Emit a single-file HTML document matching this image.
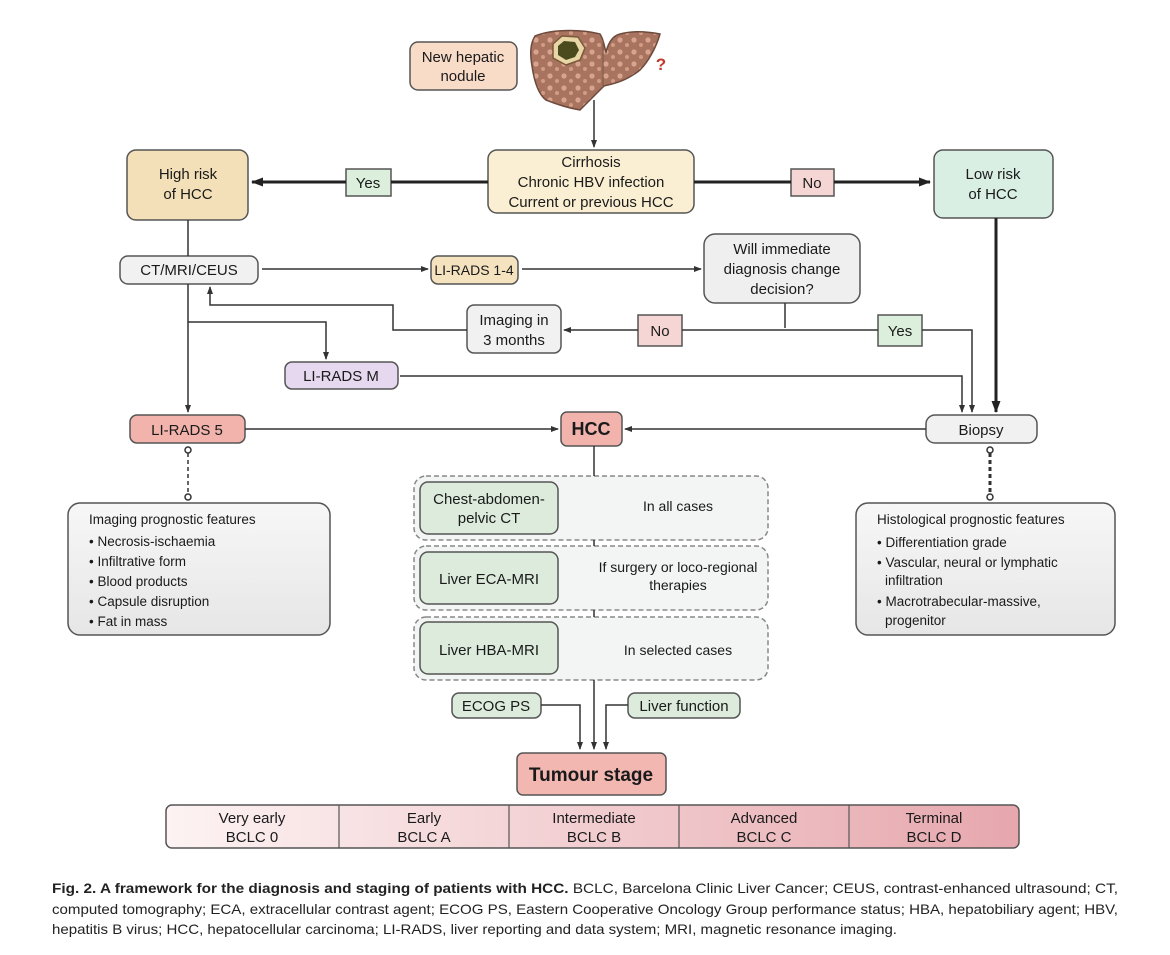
<!DOCTYPE html>
<html><head><meta charset="utf-8">
<style>
html,body{margin:0;padding:0;background:#fff;}
svg{display:block;font-family:"Liberation Sans",Arial,sans-serif;}
</style></head>
<body>
<div style="position:relative;width:1170px;height:955px;overflow:hidden;">
<svg width="1170" height="955" viewBox="0 0 1170 955">
<defs>
<marker id="a" markerWidth="8" markerHeight="8" refX="7" refY="4" orient="auto" markerUnits="userSpaceOnUse"><path d="M0,1 L8,4 L0,7z" fill="#333"/></marker>
<marker id="b" markerWidth="12" markerHeight="10" refX="11" refY="5" orient="auto" markerUnits="userSpaceOnUse"><path d="M0,0.5 L12,5 L0,9.5z" fill="#222"/></marker>
<linearGradient id="g" x1="0" y1="0" x2="0" y2="1"><stop offset="0" stop-color="#f7f7f7"/><stop offset="1" stop-color="#e6e6e6"/></linearGradient>
<linearGradient id="st" x1="0" y1="0" x2="1" y2="0"><stop offset="0" stop-color="#fdf3f3"/><stop offset="1" stop-color="#e6a7ad"/></linearGradient>
<pattern id="sp" width="14" height="12" patternUnits="userSpaceOnUse"><rect width="14" height="12" fill="#a8735f"/><circle cx="4" cy="4" r="2.6" fill="#d9a48f"/><circle cx="11" cy="9" r="2" fill="#d29b86"/></pattern>
</defs>
<g stroke="#555" stroke-width="1.5">
<!-- liver -->
<path d="M535,36 C555,28 585,30 600,34 C604,40 604,46 606,52 C608,44 612,36 620,34 C635,30 650,32 660,34 C656,48 648,62 640,70 C625,82 612,84 604,86 C598,92 590,100 580,110 C568,108 556,104 546,100 C538,94 534,80 532,66 C530,54 530,44 535,36z" fill="url(#sp)" stroke="#6e4a3d"/>
<path d="M603,40 L603,88" stroke="#7a5a4a" stroke-width="1"/>
<path d="M553,44 L562,36 L578,37 L585,48 L580,60 L566,65 L553,58z" fill="#e9d6a6" stroke="#7a5a3a"/>
<path d="M558,46 L564,41 L575,42 L579,50 L575,57 L566,60 L558,55z" fill="#4a4a1e" stroke="none"/>
<!-- boxes -->
<rect x="410" y="42" width="107" height="48" rx="8" fill="#f9dcc8"/>
<rect x="488" y="150" width="206" height="63" rx="9" fill="#fbefd3"/>
<rect x="127" y="150" width="121" height="70" rx="9" fill="#f3e0b8"/>
<rect x="934" y="150" width="119" height="68" rx="9" fill="#d9efe4"/>
<rect x="346" y="169" width="45" height="27" fill="#dcefdc"/>
<rect x="791" y="169" width="43" height="27" fill="#f6d6d4"/>
<rect x="120" y="256" width="138" height="28" rx="8" fill="#f1f1f1"/>
<rect x="431" y="256" width="87" height="28" rx="7" fill="#f5e3bf"/>
<rect x="704" y="234" width="156" height="69" rx="11" fill="#efefef"/>
<rect x="467" y="305" width="94" height="48" rx="7" fill="#f1f1f1"/>
<rect x="638" y="315" width="44" height="31" fill="#f6d6d4"/>
<rect x="878" y="315" width="44" height="31" fill="#dcefdc"/>
<rect x="285" y="362" width="113" height="27" rx="7" fill="#e6d8ee"/>
<rect x="130" y="415" width="115" height="28" rx="7" fill="#f1b3ac"/>
<rect x="561" y="412" width="61" height="34" rx="6" fill="#f1b3ac"/>
<rect x="926" y="415" width="111" height="28" rx="9" fill="#f1f1f1"/>
<rect x="68" y="503" width="262" height="132" rx="12" fill="url(#g)"/>
<rect x="856" y="503" width="259" height="132" rx="12" fill="url(#g)"/>
<rect x="517" y="753" width="149" height="42" rx="6" fill="#f1b7b0"/>
</g>
<g stroke="#888" stroke-width="1.5" stroke-dasharray="5,3" fill="#f3f4f4">
<rect x="414" y="476" width="354" height="64" rx="12"/>
<rect x="414" y="546" width="354" height="64" rx="12"/>
<rect x="414" y="617" width="354" height="63" rx="12"/>
</g>
<g stroke="#555" stroke-width="1.5" fill="#dcebdc">
<rect x="420" y="482" width="138" height="52" rx="8"/>
<rect x="420" y="552" width="138" height="52" rx="8"/>
<rect x="420" y="622" width="138" height="52" rx="8"/>
<rect x="452" y="693" width="89" height="25" rx="7"/>
<rect x="628" y="693" width="112" height="25" rx="7"/>
</g>
<!-- stage bar -->
<rect x="166" y="805" width="853" height="43" rx="6" fill="url(#st)" stroke="#555" stroke-width="1.5"/>
<g stroke="#555" stroke-width="1.2"><line x1="339" y1="805" x2="339" y2="848"/><line x1="509" y1="805" x2="509" y2="848"/><line x1="679" y1="805" x2="679" y2="848"/><line x1="849" y1="805" x2="849" y2="848"/></g>
<!-- thick connectors -->
<g stroke="#222" stroke-width="3" fill="none">
<line x1="488" y1="182" x2="391" y2="182"/><line x1="346" y1="182" x2="252" y2="182" marker-end="url(#b)"/>
<line x1="694" y1="182" x2="791" y2="182"/><line x1="834" y1="182" x2="930" y2="182" marker-end="url(#b)"/>
<line x1="996" y1="218" x2="996" y2="412" marker-end="url(#b)"/>
</g>
<g stroke="#333" stroke-width="1.5" fill="none">
<line x1="594" y1="100" x2="594" y2="147" marker-end="url(#a)"/>
<line x1="188" y1="220" x2="188" y2="256"/>
<line x1="262" y1="269" x2="428" y2="269" marker-end="url(#a)"/>
<line x1="522" y1="269" x2="701" y2="269" marker-end="url(#a)"/>
<polyline points="785,303 785,328"/>
<line x1="638" y1="330" x2="564" y2="330" marker-end="url(#a)"/>
<line x1="682" y1="330" x2="878" y2="330"/>
<polyline points="922,330 972,330 972,412" marker-end="url(#a)"/>
<polyline points="467,330 393,330 393,305 210,305 210,287" marker-end="url(#a)"/>
<line x1="188" y1="284" x2="188" y2="412" marker-end="url(#a)"/>
<polyline points="188,322 326,322 326,359" marker-end="url(#a)"/>
<polyline points="400,376 962,376 962,412" marker-end="url(#a)"/>
<line x1="245" y1="429" x2="558" y2="429" marker-end="url(#a)"/>
<line x1="926" y1="429" x2="625" y2="429" marker-end="url(#a)"/>
<line x1="594" y1="446" x2="594" y2="476"/>
<line x1="594" y1="540" x2="594" y2="546"/><line x1="594" y1="610" x2="594" y2="617"/>
<line x1="594" y1="680" x2="594" y2="749" marker-end="url(#a)"/>
<polyline points="541,705 580,705 580,749" marker-end="url(#a)"/>
<polyline points="628,705 606,705 606,749" marker-end="url(#a)"/>
<line x1="188" y1="453" x2="188" y2="493" stroke-dasharray="4,3"/>
<line x1="990" y1="453" x2="990" y2="493" stroke-width="3" stroke-dasharray="4,3"/>
<circle cx="188" cy="450" r="3" fill="#fff"/><circle cx="188" cy="497" r="3" fill="#fff"/>
<circle cx="990" cy="450" r="3" fill="#fff"/><circle cx="990" cy="497" r="3" fill="#fff"/>
</g>
<!-- text -->
<g font-size="15" fill="#1a1a1a" text-anchor="middle">
<text x="463" y="62">New hepatic</text><text x="463" y="81">nodule</text>
<text x="661" y="70" fill="#c0392b" font-weight="bold" font-size="17">?</text>
<text x="591" y="167">Cirrhosis</text><text x="591" y="187">Chronic HBV infection</text><text x="591" y="207">Current or previous HCC</text>
<text x="188" y="179">High risk</text><text x="188" y="199">of HCC</text>
<text x="993" y="179">Low risk</text><text x="993" y="199">of HCC</text>
<text x="368" y="188">Yes</text><text x="812" y="188">No</text>
<text x="189" y="275">CT/MRI/CEUS</text>
<text x="474" y="275" font-size="14">LI-RADS 1-4</text>
<text x="782" y="254">Will immediate</text><text x="782" y="274">diagnosis change</text><text x="782" y="294">decision?</text>
<text x="514" y="325">Imaging in</text><text x="514" y="345">3 months</text>
<text x="660" y="336">No</text><text x="900" y="336">Yes</text>
<text x="341" y="381">LI-RADS M</text>
<text x="187" y="435">LI-RADS 5</text>
<text x="591" y="435" font-weight="bold" font-size="18">HCC</text>
<text x="981" y="435">Biopsy</text>
<text x="489" y="504">Chest-abdomen-</text><text x="489" y="523">pelvic CT</text>
<text x="678" y="511" font-size="14">In all cases</text>
<text x="489" y="584">Liver ECA-MRI</text>
<text x="678" y="572" font-size="14">If surgery or loco-regional</text><text x="678" y="590" font-size="14">therapies</text>
<text x="489" y="655">Liver HBA-MRI</text>
<text x="678" y="655" font-size="14">In selected cases</text>
<text x="496" y="711">ECOG PS</text><text x="684" y="711">Liver function</text>
<text x="591" y="781" font-weight="bold" font-size="19">Tumour stage</text>
<text x="252" y="823">Very early</text><text x="252" y="842">BCLC 0</text>
<text x="424" y="823">Early</text><text x="424" y="842">BCLC A</text>
<text x="594" y="823">Intermediate</text><text x="594" y="842">BCLC B</text>
<text x="764" y="823">Advanced</text><text x="764" y="842">BCLC C</text>
<text x="934" y="823">Terminal</text><text x="934" y="842">BCLC D</text>
</g>
<g font-size="13.5" fill="#1a1a1a">
<text x="89" y="524">Imaging prognostic features</text>
<text x="89" y="546">• Necrosis-ischaemia</text>
<text x="89" y="566">• Infiltrative form</text>
<text x="89" y="586">• Blood products</text>
<text x="89" y="606">• Capsule disruption</text>
<text x="89" y="626">• Fat in mass</text>
<text x="877" y="524">Histological prognostic features</text>
<text x="877" y="547">• Differentiation grade</text>
<text x="877" y="567">• Vascular, neural or lymphatic</text>
<text x="885" y="585">infiltration</text>
<text x="877" y="606">• Macrotrabecular-massive,</text>
<text x="885" y="625">progenitor</text>
</g>
<g font-size="14" fill="#222">
<text x="52" y="893" textLength="1066" lengthAdjust="spacingAndGlyphs"><tspan font-weight="bold">Fig. 2. A framework for the diagnosis and staging of patients with HCC.</tspan> BCLC, Barcelona Clinic Liver Cancer; CEUS, contrast-enhanced ultrasound; CT,</text>
<text x="52" y="914" textLength="1066" lengthAdjust="spacingAndGlyphs">computed tomography; ECA, extracellular contrast agent; ECOG PS, Eastern Cooperative Oncology Group performance status; HBA, hepatobiliary agent; HBV,</text>
<text x="52" y="934" textLength="845" lengthAdjust="spacingAndGlyphs">hepatitis B virus; HCC, hepatocellular carcinoma; LI-RADS, liver reporting and data system; MRI, magnetic resonance imaging.</text>
</g>
</svg>
</div>
</body></html>
